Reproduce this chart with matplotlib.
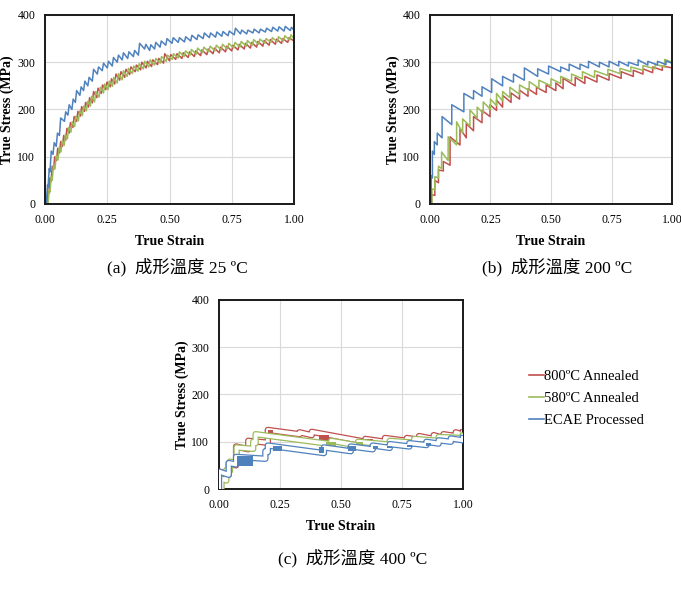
import matplotlib
matplotlib.use("Agg")
import matplotlib.pyplot as plt
from matplotlib.lines import Line2D
from matplotlib.ticker import FormatStrFormatter
import matplotlib.patheffects as pe

plt.rcParams['font.family'] = ['Liberation Serif', 'Noto Sans CJK TC']

RED = "#C0504D"
GREEN = "#9BBB59"
BLUE = "#4F81BD"

labels = ["800ºC Annealed", "580ºC Annealed", "ECAE Processed"]
captions = ["(a)  成形溫度 25 ºC", "(b)  成形溫度 200 ºC", "(c)  成形溫度 400 ºC"]
x_ticks = [0.0, 0.25, 0.5, 0.75, 1.0]
y_ticks = [0, 100, 200, 300, 400]

# each serration: strain where it jumps, stress before the jump, stress after it
# (a) 25 C
a_blue_x = [0.005, 0.012, 0.020, 0.032, 0.045, 0.058, 0.078, 0.092, 0.108, 0.122,
            0.140, 0.155, 0.172, 0.190, 0.210, 0.230, 0.250, 0.270, 0.290, 0.310,
            0.332, 0.355, 0.375, 0.400, 0.420, 0.440, 0.462, 0.485, 0.510, 0.535,
            0.560, 0.585, 0.610, 0.635, 0.660, 0.685, 0.710, 0.735, 0.760, 0.785,
            0.810, 0.835, 0.860, 0.885, 0.910, 0.935, 0.960, 0.985, 1.000]
a_blue_lo = [0, 35, 68, 105, 122, 145, 175, 188, 200, 215,
             230, 240, 250, 260, 275, 282, 288, 292, 300, 305,
             308, 312, 315, 328, 325, 328, 332, 336, 340, 342,
             343, 345, 348, 350, 352, 353, 355, 356, 358, 360,
             360, 362, 362, 364, 365, 366, 366, 367, 368]
a_blue_hi = [40, 75, 112, 130, 150, 182, 195, 210, 222, 240,
             248, 260, 268, 285, 290, 298, 302, 310, 315, 320,
             322, 325, 340, 338, 337, 342, 345, 350, 352, 352,
             354, 357, 358, 362, 362, 364, 365, 366, 372, 368,
             368, 370, 370, 372, 374, 375, 376, 374, 368]

a_red_x = [0.008, 0.015, 0.024, 0.034, 0.046, 0.058, 0.070, 0.083, 0.097, 0.112,
           0.127, 0.142, 0.158, 0.174, 0.190, 0.208, 0.226, 0.244, 0.262, 0.280,
           0.300, 0.320, 0.340, 0.362, 0.384, 0.406, 0.428, 0.452, 0.476, 0.500,
           0.525, 0.550, 0.575, 0.600, 0.625, 0.650, 0.675, 0.700, 0.725, 0.750,
           0.775, 0.800, 0.825, 0.850, 0.875, 0.900, 0.925, 0.950, 0.975, 1.000]
a_red_lo = [0, 22, 48, 72, 92, 108, 122, 135, 150, 162,
            175, 186, 196, 205, 214, 225, 234, 242, 248, 254,
            262, 268, 274, 280, 284, 288, 291, 295, 298, 303,
            306, 308, 310, 312, 314, 316, 318, 320, 322, 324,
            326, 328, 330, 332, 334, 336, 338, 340, 342, 345]
a_red_hi = [28, 55, 80, 100, 118, 132, 145, 160, 172, 185,
            196, 206, 215, 225, 238, 245, 252, 258, 265, 275,
            280, 285, 290, 294, 300, 302, 305, 308, 318, 316,
            318, 320, 322, 324, 326, 328, 330, 332, 334, 336,
            338, 340, 342, 344, 346, 348, 349, 350, 352, 348]

a_green_x = [0.012, 0.020, 0.029, 0.040, 0.052, 0.064, 0.077, 0.090, 0.104, 0.119,
             0.134, 0.150, 0.166, 0.182, 0.199, 0.217, 0.235, 0.253, 0.271, 0.290,
             0.310, 0.330, 0.351, 0.373, 0.395, 0.417, 0.440, 0.463, 0.487, 0.511,
             0.535, 0.559, 0.583, 0.608, 0.633, 0.658, 0.683, 0.708, 0.733, 0.758,
             0.783, 0.808, 0.833, 0.858, 0.883, 0.908, 0.933, 0.958, 0.983, 1.000]
a_green_lo = [0, 25, 50, 74, 93, 110, 124, 138, 152, 164,
              176, 187, 197, 207, 216, 226, 235, 242, 249, 256,
              263, 270, 276, 281, 286, 290, 294, 298, 302, 306,
              309, 312, 315, 317, 320, 322, 324, 326, 328, 330,
              332, 334, 336, 338, 340, 342, 343, 345, 347, 350]
a_green_hi = [30, 58, 82, 102, 120, 134, 148, 162, 174, 186,
              197, 207, 217, 228, 238, 247, 254, 260, 268, 276,
              282, 287, 292, 297, 302, 305, 308, 312, 315, 318,
              322, 324, 327, 330, 332, 334, 336, 338, 340, 342,
              344, 346, 348, 349, 350, 352, 354, 356, 358, 354]

# (b) 200 C
b_blue_x = [0.005, 0.010, 0.018, 0.030, 0.050, 0.090, 0.140, 0.180, 0.215, 0.255,
            0.300, 0.345, 0.390, 0.445, 0.490, 0.540, 0.575, 0.620, 0.655, 0.700,
            0.740, 0.780, 0.820, 0.860, 0.900, 0.940, 0.975, 1.000]
b_blue_lo = [0, 55, 105, 125, 140, 168, 195, 222, 228, 236,
             250, 258, 262, 270, 275, 280, 282, 285, 288, 290,
             290, 292, 292, 293, 294, 294, 295, 298]
b_blue_hi = [60, 112, 132, 150, 185, 210, 234, 240, 248, 265,
             270, 275, 288, 286, 292, 290, 296, 296, 302, 300,
             302, 302, 300, 305, 302, 302, 303, 298]

b_green_x = [0.008, 0.020, 0.035, 0.048, 0.075, 0.110, 0.135, 0.165, 0.195, 0.220,
             0.250, 0.275, 0.300, 0.330, 0.370, 0.410, 0.450, 0.500, 0.540, 0.585,
             0.630, 0.680, 0.735, 0.785, 0.830, 0.880, 0.930, 0.970, 1.000]
b_green_lo = [0, 30, 55, 75, 92, 125, 150, 165, 182, 192,
              200, 208, 218, 225, 232, 240, 245, 250, 255, 260,
              265, 268, 272, 276, 280, 283, 286, 290, 300]
b_green_hi = [32, 58, 80, 110, 142, 174, 180, 199, 205, 216,
              222, 234, 238, 247, 252, 259, 262, 265, 270, 275,
              280, 282, 285, 287, 290, 293, 296, 306, 300]

b_red_x = [0.007, 0.020, 0.035, 0.055, 0.083, 0.124, 0.150, 0.180, 0.215, 0.248,
           0.275, 0.300, 0.335, 0.370, 0.405, 0.440, 0.480, 0.520, 0.550, 0.600,
           0.640, 0.690, 0.740, 0.790, 0.840, 0.880, 0.920, 0.960, 1.000]
b_red_lo = [0, 18, 45, 70, 82, 125, 140, 155, 172, 185,
            198, 205, 215, 222, 228, 232, 236, 240, 244, 250,
            255, 258, 262, 266, 270, 275, 278, 283, 288]
b_red_hi = [20, 50, 72, 90, 142, 160, 170, 185, 198, 210,
            220, 230, 235, 241, 244, 247, 252, 256, 266, 268,
            270, 273, 276, 280, 283, 286, 290, 292, 292]

# (c) 400 C
c_red_x = [0.000, 0.040, 0.070, 0.120, 0.200, 0.330, 0.380, 0.600, 0.680, 0.770,
           0.820, 0.880, 0.920, 0.970, 1.000]
c_red_lo = [0, 30, 50, 84, 98, 116, 114, 100, 100, 102, 104, 106, 108, 112, 115]
c_red_hi = [37, 55, 90, 102, 125, 120, 121, 106, 108, 108, 112, 114, 116, 120, 120]

c_green_x = [0.010, 0.030, 0.045, 0.072, 0.140, 0.150, 0.460, 0.570, 0.700, 0.800,
             0.900, 1.000]
c_green_lo = [0, 18, 38, 55, 85, 97, 95, 92, 94, 98, 102, 108]
c_green_hi = [22, 40, 58, 88, 100, 116, 102, 100, 102, 106, 110, 113]

c_blue_x = [0.000, 0.040, 0.070, 0.190, 0.200, 0.430, 0.540, 0.630, 0.700, 0.780,
            0.850, 0.900, 0.950, 1.000]
c_blue_lo = [0, 30, 52, 64, 78, 76, 80, 84, 87, 90, 93, 96, 100, 103]
c_blue_hi = [37, 55, 68, 80, 92, 88, 90, 92, 95, 97, 100, 103, 107, 108]

# dense serration patches in (c): strain from, strain to, stress from, stress to
c_red_blocks = [(0.200, 0.220, 112, 125), (0.410, 0.450, 100, 115), (0.600, 0.630, 96, 106)]
c_green_blocks = [(0.440, 0.480, 90, 100), (0.560, 0.590, 90, 100)]
c_blue_blocks = [(0.075, 0.140, 48, 70), (0.220, 0.260, 80, 92), (0.410, 0.430, 76, 88),
                 (0.530, 0.560, 80, 90), (0.630, 0.650, 84, 90), (0.690, 0.710, 86, 92),
                 (0.770, 0.790, 88, 94), (0.850, 0.870, 92, 98)]


def serrated(xs, lo, hi, rise):
    px, py = [], []
    for x, a, b in zip(xs, lo, hi):
        px += [x, x + rise]
        py += [a, b]
    return px, py


def style_axes(ax):
    ax.set_xlim(0, 1)
    ax.set_ylim(0, 400)
    ax.set_xticks(x_ticks)
    ax.set_yticks(y_ticks)
    ax.xaxis.set_major_formatter(FormatStrFormatter('%.2f'))
    ax.grid(True, color="#d9d9d9", linewidth=0.8)
    ax.set_axisbelow(True)
    ax.tick_params(length=0, labelsize=8.5, pad=7)
    for s in ax.spines.values():
        s.set_linewidth(1.4)
        s.set_color("#1a1a1a")
    ax.set_xlabel("True Strain", fontsize=10, fontweight="bold")
    ax.set_ylabel("True Stress (MPa)", fontsize=10, fontweight="bold")
    ax.xaxis.set_label_coords(0.5, -0.165)
    ax.yaxis.set_label_coords(-0.125, 0.5)


fig = plt.figure(figsize=(6.81, 5.97), dpi=100)
ax_a = fig.add_axes([0.0661, 0.6583, 0.3656, 0.3166])
ax_b = fig.add_axes([0.6314, 0.6583, 0.3554, 0.3166])
ax_c = fig.add_axes([0.3216, 0.1809, 0.3583, 0.3166])

panels = [
    (ax_a, 0.005, [(a_red_x, a_red_lo, a_red_hi, RED),
                   (a_green_x, a_green_lo, a_green_hi, GREEN),
                   (a_blue_x, a_blue_lo, a_blue_hi, BLUE)]),
    (ax_b, 0.0, [(b_red_x, b_red_lo, b_red_hi, RED),
                 (b_green_x, b_green_lo, b_green_hi, GREEN),
                 (b_blue_x, b_blue_lo, b_blue_hi, BLUE)]),
]
for ax, rise, series in panels:
    style_axes(ax)
    for xs, lo, hi, col in series:
        px, py = serrated(xs, lo, hi, rise)
        ax.plot(px, py, color=col, linewidth=1.1)

style_axes(ax_c)
for i, (xs, lo, hi, col, blocks) in enumerate(
        [(c_red_x, c_red_lo, c_red_hi, RED, c_red_blocks),
         (c_green_x, c_green_lo, c_green_hi, GREEN, c_green_blocks),
         (c_blue_x, c_blue_lo, c_blue_hi, BLUE, c_blue_blocks)]):
    px, py = serrated(xs, lo, hi, 0.0)
    ax_c.plot(px, py, color="white", linewidth=2.8, zorder=2 + i,
              path_effects=[pe.Stroke(linewidth=4.6, foreground=col), pe.Normal()])
    for x0, x1, y0, y1 in blocks:
        ax_c.bar(x0, y1 - y0, width=x1 - x0, bottom=y0, align="edge",
                 color=col, linewidth=0, zorder=2.5 + i)

handles = [Line2D([], [], color=c, linewidth=1.2) for c in (RED, GREEN, BLUE)]
fig.legend(handles, labels, loc="upper left", bbox_to_anchor=(0.766, 0.392),
           frameon=False, fontsize=10.5, handlelength=1.0, handletextpad=0.05,
           labelspacing=0.6, borderpad=0)

fig.text(0.260, 0.553, captions[0], ha="center", va="center", fontsize=12.5)
fig.text(0.818, 0.553, captions[1], ha="center", va="center", fontsize=12.5)
fig.text(0.518, 0.066, captions[2], ha="center", va="center", fontsize=12.5)

fig.savefig("out.png", dpi=100)
